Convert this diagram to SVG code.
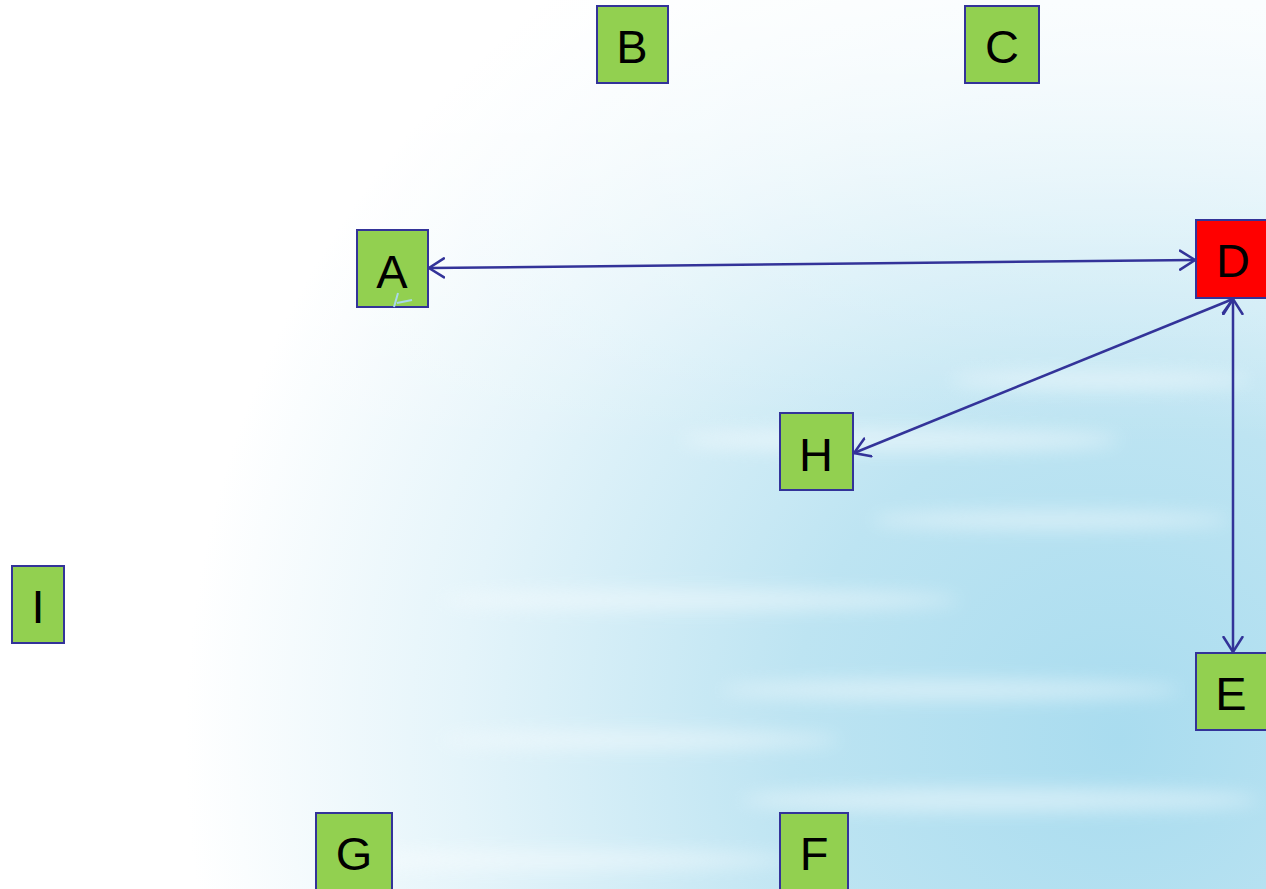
<svg xmlns="http://www.w3.org/2000/svg" width="1266" height="889" viewBox="0 0 1266 889">
  <defs>
    <radialGradient id="water" cx="1120" cy="740" r="1100" gradientUnits="userSpaceOnUse">
      <stop offset="0" stop-color="#a9dcef"/>
      <stop offset="0.3" stop-color="#bde4f2"/>
      <stop offset="0.6" stop-color="#e4f4fa"/>
      <stop offset="0.85" stop-color="#ffffff"/>
    </radialGradient>
    <linearGradient id="sky" x1="0" y1="0" x2="0" y2="1">
      <stop offset="0" stop-color="#ffffff" stop-opacity="0.75"/>
      <stop offset="0.3" stop-color="#ffffff" stop-opacity="0.25"/>
      <stop offset="0.5" stop-color="#ffffff" stop-opacity="0"/>
    </linearGradient>
    <filter id="soft" x="-20%" y="-100%" width="140%" height="300%">
      <feGaussianBlur stdDeviation="9"/>
    </filter>
    <marker id="arrow" viewBox="0 0 18 22" refX="16" refY="11" markerWidth="18" markerHeight="22" markerUnits="userSpaceOnUse" orient="auto-start-reverse">
      <path d="M1,1.5 L16,11 L1,20.5" fill="none" stroke="#333399" stroke-width="2.5" stroke-linecap="round"/>
    </marker>
    <style>
      .node rect { fill: #92d050; stroke: #333399; stroke-width: 2; }
      .node.hot rect { fill: #ff0000; }
      .node text { font-family: "Liberation Sans", Arial, sans-serif; font-size: 47px; fill: #000; text-anchor: middle; }
      .edge { fill: none; stroke: #333399; stroke-width: 2.5; marker-start: url(#arrow); marker-end: url(#arrow); }
    </style>
  </defs>

  <!-- water backdrop -->
  <rect width="1266" height="889" fill="url(#water)"/>
  <rect width="1266" height="889" fill="url(#sky)"/>
  <g filter="url(#soft)" fill="#ffffff" opacity="0.45">
    <ellipse cx="900" cy="440" rx="220" ry="12"/>
    <ellipse cx="1050" cy="520" rx="180" ry="9"/>
    <ellipse cx="700" cy="600" rx="260" ry="10"/>
    <ellipse cx="950" cy="690" rx="230" ry="10"/>
    <ellipse cx="640" cy="740" rx="200" ry="9"/>
    <ellipse cx="1000" cy="800" rx="260" ry="12"/>
    <ellipse cx="560" cy="860" rx="230" ry="9"/>
    <ellipse cx="1100" cy="380" rx="150" ry="9"/>
  </g>

  <!-- connectors -->
  <g id="connectors">
    <line class="edge" x1="429" y1="268" x2="1195" y2="260"/>
    <line class="edge" x1="1233" y1="299" x2="854" y2="453"/>
    <line class="edge" x1="1233" y1="299" x2="1233" y2="652"/>
  </g>

  <!-- nodes -->
  <g id="node-A" class="node">
    <rect x="357" y="230" width="71" height="77"/>
    <text x="392" y="288">A</text>
    <path d="M394,307 L398,293 M397,303 L412,300" fill="none" stroke="#a9d8ea" stroke-width="2"/>
  </g>
  <g id="node-B" class="node">
    <rect x="597" y="6" width="71" height="77"/>
    <text x="632" y="63">B</text>
  </g>
  <g id="node-C" class="node">
    <rect x="965" y="6" width="74" height="77"/>
    <text x="1002" y="63">C</text>
  </g>
  <g id="node-D" class="node hot">
    <rect x="1196" y="220" width="76" height="78"/>
    <text x="1233" y="277">D</text>
  </g>
  <g id="node-E" class="node">
    <rect x="1196" y="653" width="76" height="77"/>
    <text x="1231" y="710">E</text>
  </g>
  <g id="node-F" class="node">
    <rect x="780" y="813" width="68" height="80"/>
    <text x="814" y="870">F</text>
  </g>
  <g id="node-G" class="node">
    <rect x="316" y="813" width="76" height="80"/>
    <text x="354" y="870">G</text>
  </g>
  <g id="node-H" class="node">
    <rect x="780" y="413" width="73" height="77"/>
    <text x="816" y="471">H</text>
  </g>
  <g id="node-I" class="node">
    <rect x="12" y="566" width="52" height="77"/>
    <text x="38" y="623">I</text>
  </g>
</svg>
